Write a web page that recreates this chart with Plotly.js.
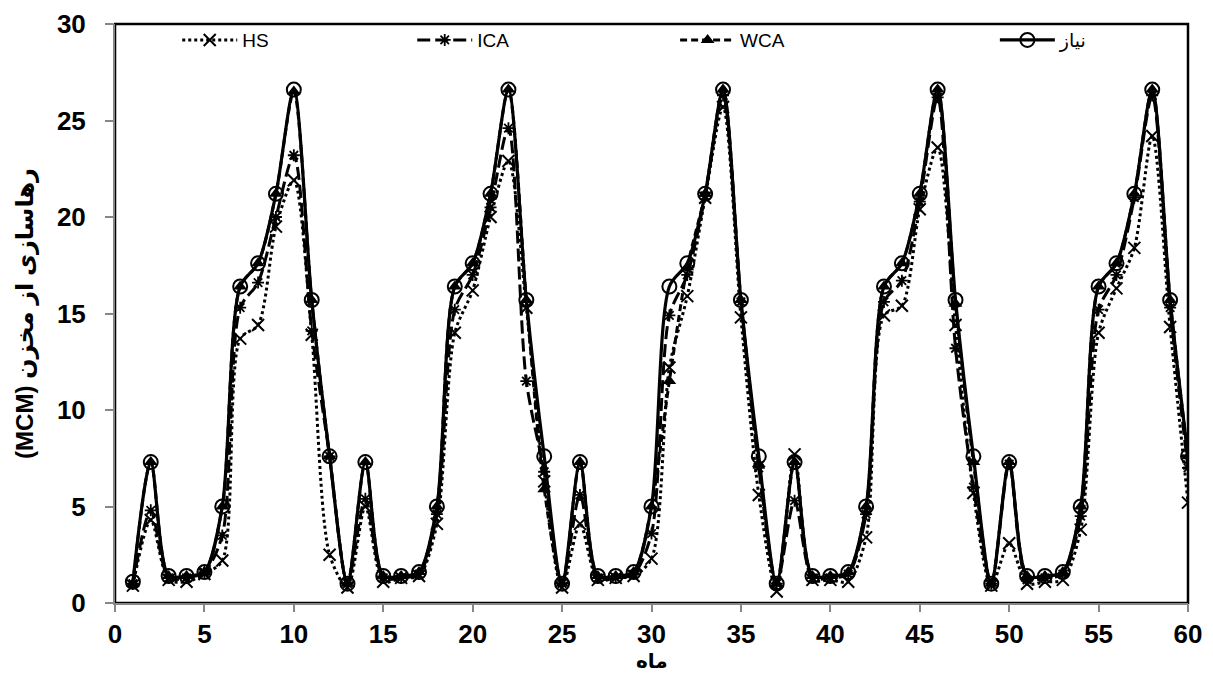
<!DOCTYPE html>
<html>
<head>
<meta charset="utf-8">
<script src="https://cdn.plot.ly/plotly-3.0.1.min.js"></script>
<style>html,body{margin:0;padding:0;background:#fff;overflow:hidden;}#chart{width:1213px;height:692px;}</style>
</head>
<body>
<div id="chart"></div>
<script>
// Months 1..60
const months = Array.from({length: 60}, (_, i) => i + 1);

// Demand (نیاز)
const demand = [
  1.1, 7.3, 1.4, 1.4, 1.6, 5.0, 16.4, 17.6, 21.2, 26.6, 15.7, 7.6,
  1.0, 7.3, 1.4, 1.4, 1.6, 5.0, 16.4, 17.6, 21.2, 26.6, 15.7, 7.6,
  1.0, 7.3, 1.4, 1.4, 1.6, 5.0, 16.4, 17.6, 21.2, 26.6, 15.7, 7.6,
  1.0, 7.3, 1.4, 1.4, 1.6, 5.0, 16.4, 17.6, 21.2, 26.6, 15.7, 7.6,
  1.0, 7.3, 1.4, 1.4, 1.6, 5.0, 16.4, 17.6, 21.2, 26.6, 15.7, 7.6
];

// HS
const hs = [
  0.9, 4.3, 1.2, 1.1, 1.5, 2.2, 13.7, 14.4, 19.5, 21.9, 13.9, 2.5,
  0.8, 5.0, 1.1, 1.3, 1.4, 4.1, 14.0, 16.2, 20.0, 22.9, 15.3, 6.3,
  0.8, 4.1, 1.2, 1.3, 1.4, 2.3, 12.2, 15.9, 21.0, 25.7, 14.8, 5.6,
  0.6, 7.7, 1.2, 1.2, 1.1, 3.4, 14.9, 15.4, 20.4, 23.6, 14.4, 5.7,
  0.9, 3.1, 1.0, 1.1, 1.2, 3.8, 14.0, 16.3, 18.4, 24.2, 14.3, 5.2
];

// ICA
const ica = [
  1.0, 4.8, 1.3, 1.3, 1.6, 3.5, 15.3, 16.6, 20.0, 23.2, 14.1, 7.6,
  1.0, 5.4, 1.3, 1.3, 1.5, 4.6, 15.2, 17.0, 20.5, 24.6, 11.5, 6.8,
  1.0, 5.6, 1.3, 1.3, 1.5, 3.6, 14.9, 17.0, 21.1, 26.3, 15.6, 7.0,
  1.0, 5.3, 1.3, 1.3, 1.5, 4.6, 15.6, 16.7, 20.8, 26.2, 13.2, 6.0,
  1.0, 7.2, 1.2, 1.3, 1.5, 4.5, 15.2, 17.0, 21.0, 26.3, 15.3, 7.0
];

// WCA
const wca = [
  1.0, 7.3, 1.4, 1.4, 1.6, 5.0, 16.4, 17.6, 21.2, 26.5, 15.7, 7.6,
  1.0, 7.3, 1.4, 1.4, 1.6, 5.0, 16.4, 17.6, 21.2, 26.6, 15.7, 5.9,
  1.0, 7.3, 1.4, 1.4, 1.6, 5.0, 11.5, 17.4, 21.2, 26.6, 15.7, 7.2,
  1.0, 7.3, 1.4, 1.4, 1.6, 5.0, 16.4, 17.6, 21.2, 26.6, 15.5, 7.3,
  1.0, 7.3, 1.4, 1.4, 1.6, 5.0, 16.4, 17.6, 21.2, 26.6, 15.7, 7.6
];

const seriesNames = ['HS', 'ICA', 'WCA', 'نیاز'];
const xTitle = 'ماه';
const yTitle = '(MCM) رهاسازی از مخزن';
const FONT = 'Liberation Sans, Arial, DejaVu Sans, sans-serif';

const traces = [
  {x: months, y: hs, name: seriesNames[0], legend: 'legend', type: 'scatter', mode: 'lines+markers',
   line: {color: '#000', width: 3, dash: 'dot', shape: 'spline', smoothing: 0.8},
   marker: {symbol: 'x-thin-open', size: 12, color: '#000', line: {color: '#000', width: 2}}},
  {x: months, y: ica, name: seriesNames[1], legend: 'legend2', type: 'scatter', mode: 'lines+markers',
   line: {color: '#000', width: 3, dash: '13px,5px', shape: 'spline', smoothing: 0.8},
   marker: {symbol: 'asterisk-open', size: 10, color: '#000', line: {color: '#000', width: 1.8}}},
  {x: months, y: wca, name: seriesNames[2], legend: 'legend3', type: 'scatter', mode: 'lines+markers',
   line: {color: '#000', width: 3, dash: '7px,4px', shape: 'spline', smoothing: 0.8},
   marker: {symbol: 'triangle-up', size: 12, color: '#000'}},
  {x: months, y: demand, name: seriesNames[3], legend: 'legend4', type: 'scatter', mode: 'lines+markers',
   line: {color: '#000', width: 3.2, shape: 'spline', smoothing: 0.8},
   marker: {symbol: 'circle-open', size: 14, color: '#000', line: {color: '#000', width: 2}}}
];

function leg(x) {
  return {
    orientation: 'h', x: x, y: 1.005, xanchor: 'left', yanchor: 'top',
    itemwidth: 55, font: {family: FONT, size: 19, color: '#000'},
    bgcolor: 'rgba(0,0,0,0)'
  };
}

const layout = {
  width: 1213, height: 692,
  margin: {l: 115, r: 25, t: 24, b: 89},
  paper_bgcolor: '#fff', plot_bgcolor: '#fff',
  font: {family: FONT, color: '#000'},
  showlegend: true,
  legend: leg(0.058),
  legend2: leg(0.277),
  legend3: leg(0.522),
  legend4: leg(0.82),
  xaxis: {
    range: [0, 60], tickmode: 'linear', tick0: 0, dtick: 5,
    showgrid: false, zeroline: false,
    showline: true, linecolor: '#868686', linewidth: 2,
    ticks: 'outside', ticklen: 7, tickwidth: 2, tickcolor: '#868686',
    tickfont: {family: FONT, size: 26, color: '#000', weight: 'bold'}
  },
  yaxis: {
    range: [0, 30], tickmode: 'linear', tick0: 0, dtick: 5,
    showgrid: false, zeroline: false,
    showline: true, linecolor: '#868686', linewidth: 2,
    ticks: 'outside', ticklen: 8, tickwidth: 2, tickcolor: '#868686',
    ticklabelstandoff: 14,
    tickfont: {family: FONT, size: 26, color: '#000', weight: 'bold'},
    title: {text: yTitle, font: {family: FONT, size: 24, color: '#000', weight: 'bold'}, standoff: 16}
  },
  annotations: [
    {text: xTitle, xref: 'paper', yref: 'paper', x: 0.5, y: -0.1,
     xanchor: 'center', yanchor: 'middle', showarrow: false,
     font: {family: 'DejaVu Sans, sans-serif', size: 20, color: '#000', weight: 'bold'}}
  ],
  shapes: [
    {type: 'rect', xref: 'paper', yref: 'paper', x0: 0, x1: 1, y0: 0, y1: 1,
     line: {color: '#000', width: 2.5}, layer: 'below'}
  ]
};

Plotly.newPlot('chart', traces, layout, {displayModeBar: false, staticPlot: true});
</script>
</body>
</html>
